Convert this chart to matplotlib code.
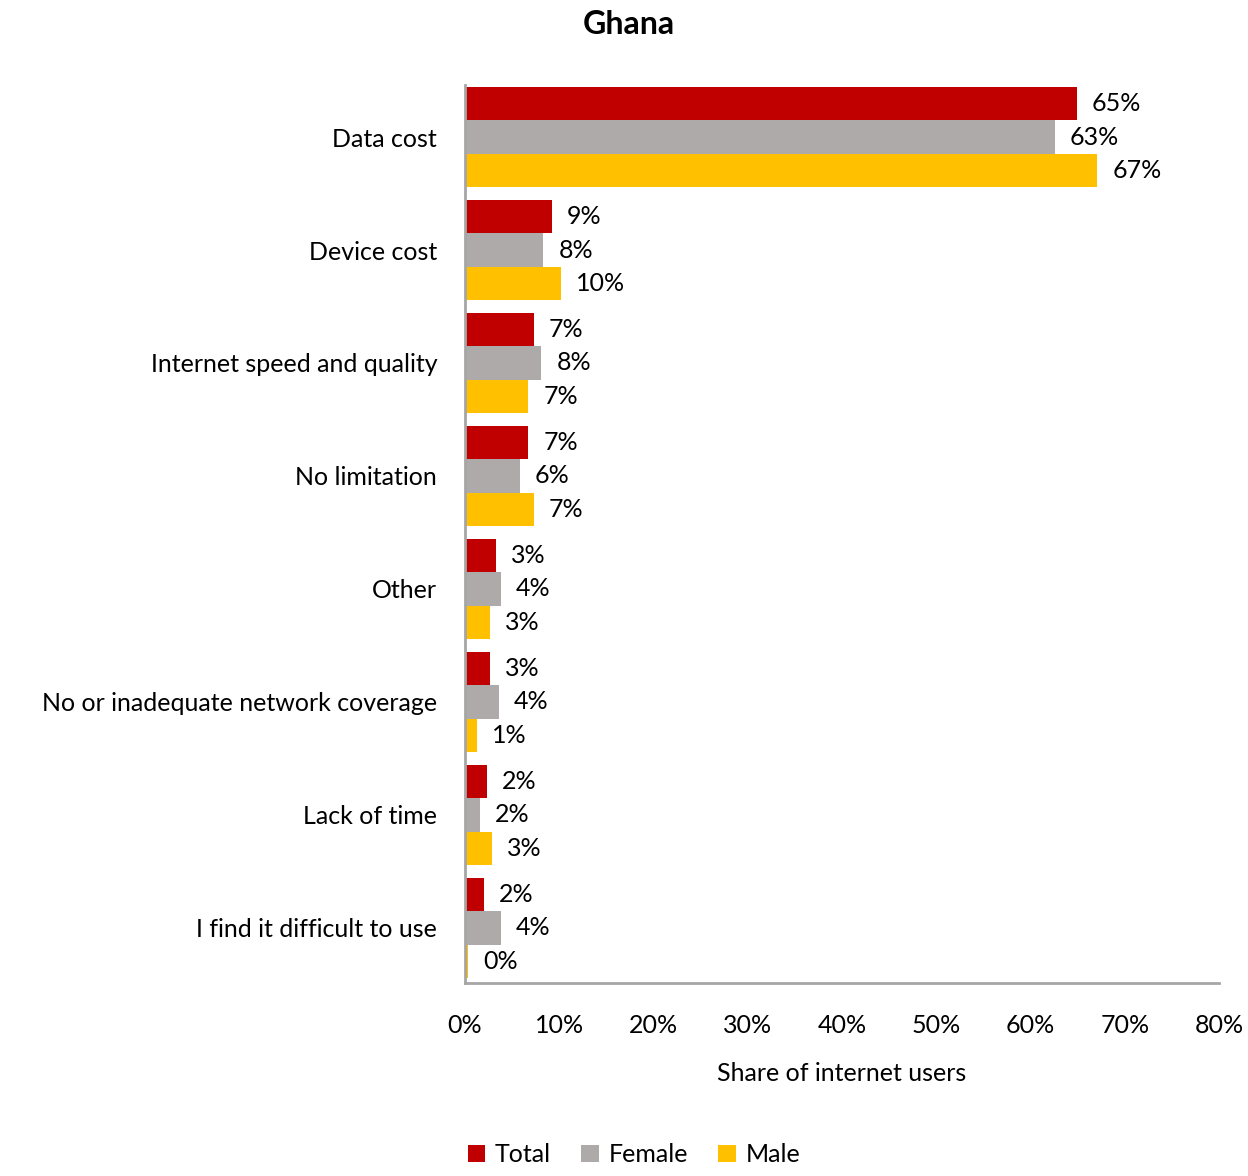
import numpy as np
import matplotlib.pyplot as plt
from matplotlib.ticker import FuncFormatter

plt.rcParams['font.family'] = ['Lato', 'DejaVu Sans']

categories = ['Data cost', 'Device cost', 'Internet speed and quality', 'No limitation',
              'Other', 'No or inadequate network coverage', 'Lack of time',
              'I find it difficult to use']
total = [64.9, 9.2, 7.3, 6.7, 3.3, 2.6, 2.3, 2.0]
female = [62.6, 8.3, 8.1, 5.8, 3.8, 3.6, 1.6, 3.8]
male = [67.1, 10.2, 6.7, 7.3, 2.6, 1.3, 2.9, 0.3]

series = [('Total', total, '#C00000'),
          ('Female', female, '#AEAAAA'),
          ('Male', male, '#FFC000')]

fig = plt.figure(figsize=(12.48, 11.76), dpi=100)
ax = fig.add_axes([0.3726, 0.1641, 0.6042, 0.7636])

y = np.arange(len(categories))
h = 0.295
for i, (name, vals, col) in enumerate(series):
    pos = y + (i - 1) * h
    ax.barh(pos, vals, height=h, color=col, label=name)
    for p, v in zip(pos, vals):
        ax.text(v + 1.6, p, f'{v:.0f}%', va='center', ha='left', fontsize=18)

ax.set_ylim(7.487, -0.46)
ax.set_xlim(0, 80)
ax.set_xticks(np.arange(0, 81, 10))
ax.xaxis.set_major_formatter(FuncFormatter(lambda v, _: f'{v:.0f}%'))
ax.set_yticks(y)
ax.set_yticklabels(categories)
ax.tick_params(axis='both', length=0, labelsize=18)
ax.tick_params(axis='y', pad=20)
ax.tick_params(axis='x', pad=22)
ax.set_xlabel('Share of internet users', fontsize=18, labelpad=18)

for s in ['top', 'right']:
    ax.spines[s].set_visible(False)
for s in ['left', 'bottom']:
    ax.spines[s].set_color('#A6A6A6')
    ax.spines[s].set_linewidth(2)

fig.text(0.504, 0.979, 'Ghana', ha='center', va='center', fontsize=23, fontweight='bold')

handles, labels = ax.get_legend_handles_labels()
fig.legend(handles, labels, loc='center', bbox_to_anchor=(0.508, 0.018), ncol=3,
           frameon=False, fontsize=18, handlelength=0.7, handleheight=0.7,
           handletextpad=0.4, columnspacing=1.2)

fig.savefig('out.png', dpi=100)
